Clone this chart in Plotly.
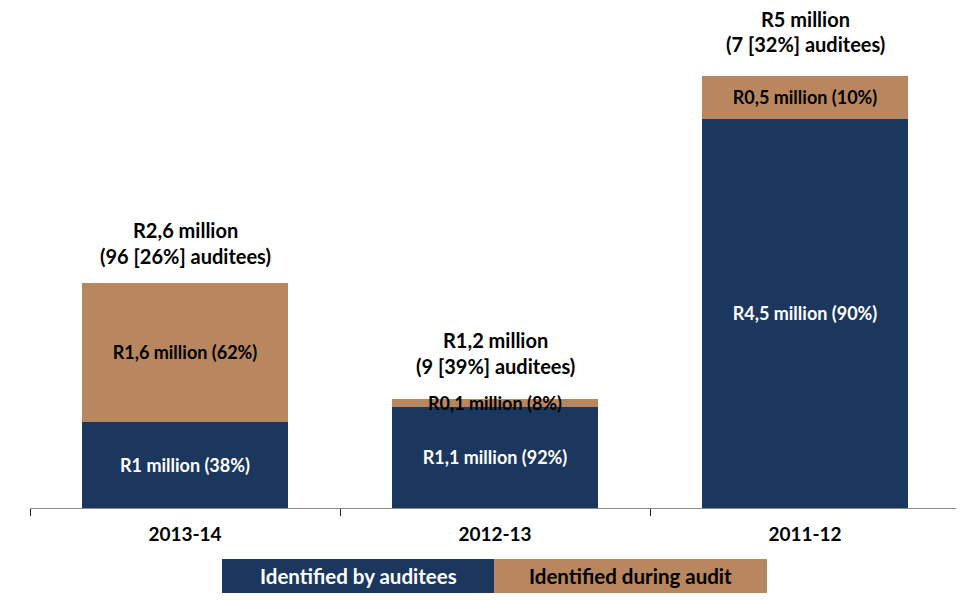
import plotly.graph_objects as go

categories = ["2013-14", "2012-13", "2011-12"]
by_auditees = [1.0, 1.17, 4.5]
during_audit = [1.6, 0.09, 0.5]
by_auditees_labels = ["R1 million (38%)", "R1,1 million (92%)", "R4,5 million (90%)"]
during_audit_labels = ["R1,6 million (62%)", "R0,1 million (8%)", "R0,5 million (10%)"]
total_labels = ["R2,6 million", "R1,2 million", "R5 million"]
auditee_labels = ["(96 [26%] auditees)", "(9 [39%] auditees)", "(7 [32%] auditees)"]
series_names = ["Identified by auditees", "Identified during audit"]

NAVY = "#1b375d"
TAN = "#b8865f"
FONT = "Lato"

fig = go.Figure()
fig.add_trace(go.Bar(
    x=categories, y=by_auditees, name=series_names[0], marker_color=NAVY,
    marker_line_width=0, text=by_auditees_labels, textposition="inside",
    insidetextanchor="middle", constraintext="none", textangle=0,
    textfont=dict(family=FONT, size=18, color="white", weight="bold"),
    showlegend=False,
))
fig.add_trace(go.Bar(
    x=categories, y=during_audit, name=series_names[1], marker_color=TAN,
    marker_line_width=0, text=during_audit_labels, textposition="inside",
    insidetextanchor="middle", constraintext="none", textangle=0,
    textfont=dict(family=FONT, size=18, color="black", weight="bold"),
    showlegend=False,
))

shifts = [(27, 53), (33, 59), (32, 57)]
for i, c in enumerate(categories):
    tot = by_auditees[i] + during_audit[i]
    fig.add_annotation(x=c, y=tot, text=auditee_labels[i], showarrow=False,
                       yanchor="middle", yshift=shifts[i][0],
                       font=dict(family=FONT, size=20, color="black", weight="bold"))
    fig.add_annotation(x=c, y=tot, text=total_labels[i], showarrow=False,
                       yanchor="middle", yshift=shifts[i][1],
                       font=dict(family=FONT, size=20, color="black", weight="bold"))

# page body has an 8px margin; work in figure pixels
OFF = 8
FW, FH = 964 - OFF, 602 - OFF
L, T = 30 - OFF, 10 - OFF
W, H = 930, 498

def px(x):
    return (x - OFF - L) / W

def py(y):
    return (T + H - (y - OFF)) / H

cells = [(222, 494.5, NAVY, "white"), (494.5, 767, TAN, "black")]
for (x0, x1, col, tcol), name in zip(cells, series_names):
    fig.add_shape(type="rect", xref="paper", yref="paper",
                  x0=px(x0), x1=px(x1), y0=py(593), y1=py(559),
                  fillcolor=col, line=dict(width=0))
    fig.add_annotation(xref="paper", yref="paper", x=(px(x0) + px(x1)) / 2,
                       y=py(576), text=name, showarrow=False,
                       xanchor="center", yanchor="middle",
                       font=dict(family=FONT, size=20.5, color=tcol, weight="bold"))

fig.update_layout(
    barmode="stack", bargap=0.333,
    width=FW, height=FH,
    margin=dict(l=L, r=FW - L - W, t=T, b=FH - T - H, autoexpand=False),
    plot_bgcolor="white", paper_bgcolor="white",
    font=dict(family=FONT),
)
fig.update_xaxes(
    type="category", automargin=False,
    showline=True, linecolor="#8a8a8a", linewidth=1,
    ticks="outside", tickson="boundaries", ticklen=7, tickcolor="#222222",
    tickfont=dict(family=FONT, size=19, color="black", weight="bold"),
    ticklabelstandoff=9, showgrid=False,
)
fig.update_yaxes(visible=False, range=[0, 5.76], showgrid=False, automargin=False)

fig.write_html("out.html")
